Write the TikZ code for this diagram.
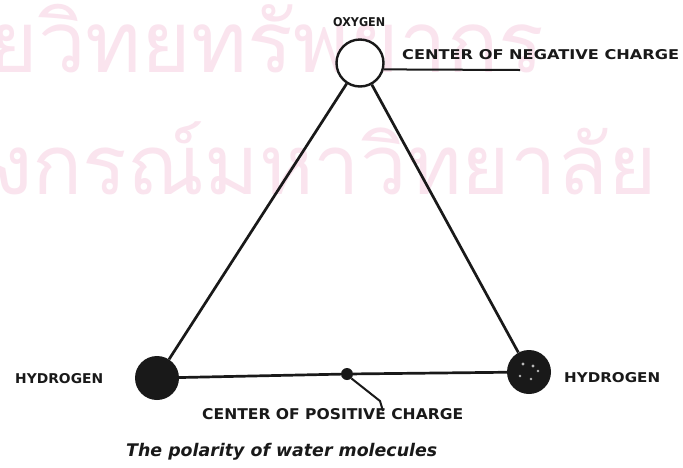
\documentclass[tikz,border=0pt]{standalone}
\usepackage{fontspec}
\usepackage{graphicx}
\newfontfamily\thaifont[Script=Thai]{Loma}
\newfontfamily\labfont{DejaVu Sans}
\definecolor{wm}{RGB}{250,228,238}
\definecolor{ink}{RGB}{25,25,25}
\begin{document}
\begin{tikzpicture}[x=1pt,y=-1pt,
  bond/.style={line width=2.7pt, draw=ink},
  leader/.style={line width=2pt, draw=ink},
  lab/.style={inner sep=0pt, anchor=north west, text=ink, font=\labfont\bfseries},
  atomH/.style={circle, fill=ink, minimum size=44pt, inner sep=0pt},
  speck/.style={fill=gray!55}]
\fill[white] (0,0) rectangle (683,467);
\useasboundingbox (0,0) rectangle (683,467);
% watermark
\node[inner sep=0pt, anchor=base west, text=wm] (wm1) at (-12,72) {\resizebox{556pt}{!}{\thaifont ยวิทยทรัพยากร}};
\node[inner sep=0pt, anchor=base west, text=wm] (wm2) at (-8,194) {\resizebox{664pt}{!}{\thaifont งกรณ์มหาวิทยาลัย}};
% atoms
\node[circle, draw=ink, line width=2.4pt, fill=white, minimum size=47pt, inner sep=0pt] (oxy) at (360,63) {};
\node[atomH] (hl) at (157,378) {};
\node[atomH] (hr) at (529,372) {};
\node[circle, fill=ink, minimum size=12pt, inner sep=0pt] (cp) at (347,374) {};
\fill[speck] (523,364) circle (1.6pt) (533,366) circle (1.6pt) (520,376) circle (1.4pt) (531,379) circle (1.4pt) (538,371) circle (1.3pt);
% bonds
\draw[bond] (oxy) -- (hl);
\draw[bond] (oxy) -- (hr);
\draw[bond] (hl) -- (cp) -- (hr);
% leaders
\coordinate (ne) at (520,70);
\draw[leader] (oxy.-15) -- (ne);
\coordinate (k1) at (380,401);
\coordinate (k2) at (383,411);
\draw[leader] (cp.-45) -- (k1) -- (k2);
% labels
\node[lab] (ox) at (333,17) {\resizebox{52pt}{9pt}{OXYGEN}};
\node[lab] (neg) at (402,49) {\resizebox{277pt}{10pt}{CENTER OF NEGATIVE CHARGE}};
\node[lab] (hll) at (15,373) {\resizebox{88pt}{10pt}{HYDROGEN}};
\node[lab] (hrl) at (564,372) {\resizebox{96pt}{10pt}{HYDROGEN}};
\node[lab] (pos) at (202,408) {\resizebox{261pt}{11pt}{CENTER OF POSITIVE CHARGE}};
\node[inner sep=0pt, anchor=north west, text=ink] (cap) at (126,443) {\resizebox{311pt}{!}{\labfont\bfseries\itshape The polarity of water molecules}};
\end{tikzpicture}
\end{document}
